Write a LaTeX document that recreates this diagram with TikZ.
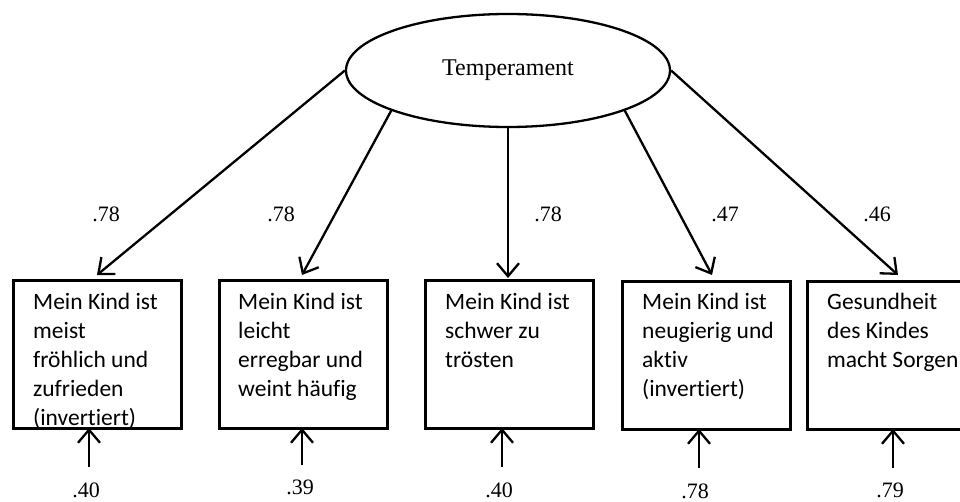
\documentclass[tikz,border=0pt]{standalone}
\usepackage{fontspec}
\setmainfont{Liberation Serif}
\newfontfamily\boxfont[Ligatures={NoCommon}]{Carlito}
\usetikzlibrary{arrows.meta,shapes.geometric}
\tikzset{
  conn/.style={line width=2.3pt,-{Straight Barb[length=13pt,width=22pt,line width=2.3pt]}},
  itembox/.style={draw,line width=2.6pt,minimum width=168pt,minimum height=148pt,inner sep=0pt,anchor=north west},
  itemtext/.style={anchor=north west,inner sep=0pt,align=left,font=\boxfont\fontsize{23.5pt}{29pt}\selectfont},
  lbl/.style={inner sep=0pt,font=\fontsize{22pt}{24pt}\selectfont},
  latent/.style={draw,ellipse,line width=2.3pt,minimum width=324pt,minimum height=113pt,inner sep=0pt,font=\fontsize{24pt}{26pt}\selectfont}
}
\begin{document}
\begin{tikzpicture}[x=1pt,y=-1pt]
\useasboundingbox (0,0) rectangle (960,502);
\node[latent] (T) at (508,70.5) {Temperament};
% boxes
\node[itembox] (b1) at (12,279) {};
\node[itembox] (b2) at (218,279) {};
\node[itembox] (b3) at (424,279) {};
\node[itembox] (b4) at (621,280) {};
\node[itembox] (b5) at (806,280) {};
% texts
\node[itemtext] (x1) at (33,289) {\rule{0pt}{20pt}Mein Kind ist\\meist\\fröhlich und\\zufrieden\\(invertiert)};
\node[itemtext] (x2) at (238,289) {\rule{0pt}{20pt}Mein Kind ist\\leicht\\erregbar und\\weint häufig};
\node[itemtext] (x3) at (445,289) {\rule{0pt}{20pt}Mein Kind ist\\schwer zu\\trösten};
\node[itemtext] (x4) at (642,289) {\rule{0pt}{20pt}Mein Kind ist\\neugierig und\\aktiv\\(invertiert)};
\node[itemtext] (x5) at (827,289) {\rule{0pt}{20pt}Gesundheit\\des Kindes\\macht Sorgen};
% arrow tips
\coordinate (t1) at (97,275);
\coordinate (t2) at (302,275);
\coordinate (t3) at (508,278);
\coordinate (t4) at (712,275);
\coordinate (t5) at (898,275);
\draw[conn] (T.west) -- (t1);
\draw[conn] (T.-161) -- (t2);
\draw[conn] (T.south) -- (t3);
\draw[conn] (T.-19) -- (t4);
\draw[conn] (T.east) -- (t5);
% loadings
\node[lbl] (l1) at (106,214) {.78};
\node[lbl] (l2) at (281,214) {.78};
\node[lbl] (l3) at (548,214) {.78};
\node[lbl] (l4) at (725,214) {.47};
\node[lbl] (l5) at (877,214) {.46};
% residual arrows
\coordinate (e1s) at (89,467);  \coordinate (e1e) at (89,428);
\coordinate (e2s) at (302,465); \coordinate (e2e) at (302,428);
\coordinate (e3s) at (502,467); \coordinate (e3e) at (502,428);
\coordinate (e4s) at (699,468); \coordinate (e4e) at (699,429);
\coordinate (e5s) at (893,468); \coordinate (e5e) at (893,429);
\draw[conn] (e1s) -- (e1e);
\draw[conn] (e2s) -- (e2e);
\draw[conn] (e3s) -- (e3e);
\draw[conn] (e4s) -- (e4e);
\draw[conn] (e5s) -- (e5e);
\node[lbl] (r1) at (86,490) {.40};
\node[lbl] (r2) at (300,487) {.39};
\node[lbl] (r3) at (499,490) {.40};
\node[lbl] (r4) at (695,491) {.78};
\node[lbl] (r5) at (890,490) {.79};
\end{tikzpicture}
\end{document}
